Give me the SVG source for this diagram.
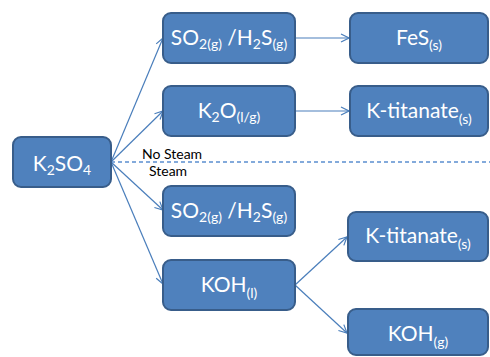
<svg xmlns="http://www.w3.org/2000/svg" width="490" height="357" viewBox="0 0 490 357">
<defs>
<marker id="ah" markerWidth="10" markerHeight="10" refX="9" refY="5" orient="auto" markerUnits="userSpaceOnUse">
<path d="M1,1 L9,5 L1,9" fill="none" stroke="#4A7EBB" stroke-width="1.2"/>
</marker>
</defs>
<style>
.box{fill:#4F81BD;stroke:#385D8A;stroke-width:2}
.t{font-family:Lato,"Liberation Sans",sans-serif;font-size:21px;fill:#fff;text-anchor:middle}
.s{font-size:14px}
.c{stroke:#4A7EBB;stroke-width:1.2;fill:none;marker-end:url(#ah)}
.lbl{font-family:Lato,"Liberation Sans",sans-serif;font-size:14px;fill:#000}
</style>
<rect width="490" height="357" fill="#fff"/>
<g id="connectors">
<line class="c" x1="111" y1="162" x2="163" y2="38"/>
<line class="c" x1="111" y1="162" x2="163" y2="111"/>
<line class="c" x1="111" y1="162" x2="163" y2="210"/>
<line class="c" x1="111" y1="162" x2="163" y2="284"/>
<line class="c" x1="295" y1="38" x2="349" y2="38"/>
<line class="c" x1="295" y1="111" x2="349" y2="111"/>
<line class="c" x1="295" y1="285" x2="347" y2="237"/>
<line class="c" x1="295" y1="285" x2="347" y2="333"/>
<line x1="111" y1="162" x2="490" y2="162" stroke="#5B8FD0" stroke-width="1.3" stroke-dasharray="4,3"/>
</g>
<text class="lbl" x="142" y="159">No Steam</text>
<text class="lbl" x="149" y="176">Steam</text>
<g id="k2so4">
<rect class="box" x="13" y="137" width="98" height="50" rx="8"/>
<text class="t" x="62" y="171">K<tspan class="s" dy="4">2</tspan><tspan dy="-4">SO</tspan><tspan class="s" dy="4">4</tspan></text>
</g>
<g id="so2top">
<rect class="box" x="163" y="13" width="132" height="50" rx="8"/>
<text class="t" x="229" y="45">SO<tspan class="s" dy="4">2(g)</tspan><tspan dy="-4"> /H</tspan><tspan class="s" dy="4">2</tspan><tspan dy="-4">S</tspan><tspan class="s" dy="4">(g)</tspan></text>
</g>
<g id="k2o">
<rect class="box" x="163" y="86" width="132" height="50" rx="8"/>
<text class="t" x="229" y="118">K<tspan class="s" dy="4">2</tspan><tspan dy="-4">O</tspan><tspan class="s" dy="4">(l/g)</tspan></text>
</g>
<g id="fes">
<rect class="box" x="350" y="13" width="138" height="50" rx="8"/>
<text class="t" x="419" y="45">FeS<tspan class="s" dy="5">(s)</tspan></text>
</g>
<g id="ktitanate1">
<rect class="box" x="350" y="86" width="138" height="50" rx="8"/>
<text class="t" x="419" y="118">K-titanate<tspan class="s" dy="6">(s)</tspan></text>
</g>
<g id="so2bottom">
<rect class="box" x="163" y="186" width="132" height="50" rx="8"/>
<text class="t" x="229" y="218">SO<tspan class="s" dy="4">2(g)</tspan><tspan dy="-4"> /H</tspan><tspan class="s" dy="4">2</tspan><tspan dy="-4">S</tspan><tspan class="s" dy="4">(g)</tspan></text>
</g>
<g id="kohl">
<rect class="box" x="163" y="260" width="132" height="50" rx="8"/>
<text class="t" x="229" y="292">KOH<tspan class="s" dy="6">(l)</tspan></text>
</g>
<g id="ktitanate2">
<rect class="box" x="348" y="212" width="140" height="49" rx="8"/>
<text class="t" x="418" y="243">K-titanate<tspan class="s" dy="6">(s)</tspan></text>
</g>
<g id="kohg">
<rect class="box" x="348" y="309" width="140" height="46" rx="8"/>
<text class="t" x="418" y="341">KOH<tspan class="s" dy="6">(g)</tspan></text>
</g>
</svg>
